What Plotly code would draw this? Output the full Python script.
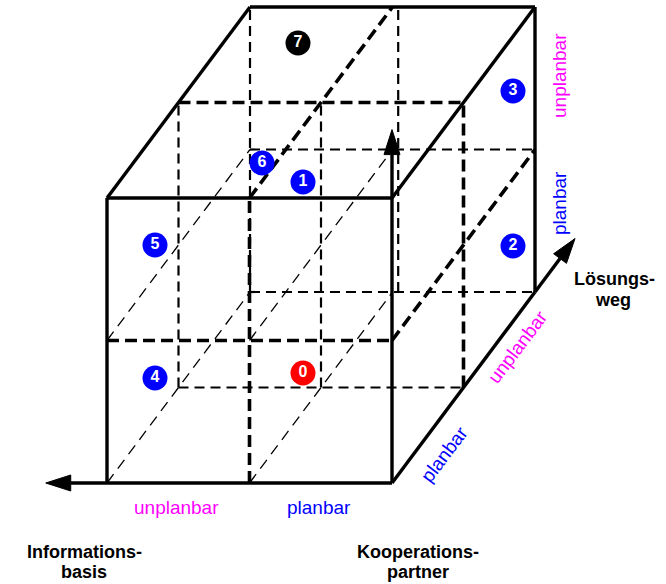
import plotly.graph_objects as go

# ---------------- data ----------------
# cube grid nodes are given as (u, v, w): u = left->right, v = bottom->top, w = front->back
solid_edges = [((0, 0, 0), (2, 0, 0)), ((0, 2, 0), (2, 2, 0)), ((0, 0, 0), (0, 2, 0)),
               ((2, 0, 0), (2, 2, 0)), ((0, 2, 0), (0, 2, 2)), ((2, 2, 0), (2, 2, 2)),
               ((0, 2, 2), (2, 2, 2)), ((2, 0, 2), (2, 2, 2)), ((2, 0, 0), (2, 0, 2))]
thick_dashed_edges = [((0, 1, 0), (2, 1, 0)), ((1, 0, 0), (1, 2, 0)), ((0, 2, 1), (2, 2, 1)),
                      ((2, 0, 1), (2, 2, 1)), ((2, 1, 0), (2, 1, 2)), ((1, 2, 0), (1, 2, 2))]
medium_dashed_edges = [((0, 0, 1), (2, 0, 1)), ((0, 0, 1), (0, 2, 1)), ((1, 0, 1), (1, 2, 1)),
                       ((0, 0, 2), (0, 2, 2)), ((1.04, 0, 2), (1.04, 2, 2)), ((0, 1, 2), (2, 1, 2)),
                       ((0, 0, 2), (2, 0, 2))]
thin_dashed_edges = [((0, 0, 0), (0, 0, 2)), ((1, 0, 0), (1, 0, 2)),
                     ((0, 1, 0), (0, 1, 2)), ((1, 1, 0), (1, 1, 2))]
# axis arrows: (start node, tip node)
arrows = [((0, 0, 0), (-0.43, 0, 0)), ((2, 2, 0), (2, 2.48, 0)), ((2, 0, 2), (2, 0, 2.56))]

point_labels = ["0", "1", "2", "3", "4", "5", "6", "7"]
point_x = [303, 303, 513, 513, 155, 155, 262, 298]
point_y = [373, 182, 246, 91, 378, 245, 163, 43]
point_colors = ["#ff0000", "#0000ff", "#0000ff", "#0000ff", "#0000ff", "#0000ff", "#0000ff", "#000000"]

axis_labels = ["unplanbar", "planbar", "unplanbar", "planbar", "unplanbar", "planbar"]
axis_label_colors = ["#ff00ff", "#0000ff", "#ff00ff", "#0000ff", "#ff00ff", "#0000ff"]
axis_label_x = [176, 319, 517, 444, 559, 559]
axis_label_y = [507, 507, 347, 454, 76, 203]
axis_label_angle = [0, 0, -53, -53, -90, -90]

title_lines = ["Informations-", "basis", "Kooperations-", "partner", "Lösungs-", "weg"]
title_x = [84, 84, 418, 418, 614, 613]
title_y = [552, 572, 552, 572, 279, 300]

# ---------------- projection ----------------
ORIGIN = (107.0, 483.0)
U_STEP = (142.5, 0.0)
V_STEP = (0.0, -142.5)
W_STEP = (71.5, -95.5)


def proj(n):
    u, v, w = n
    return (ORIGIN[0] + u * U_STEP[0] + v * V_STEP[0] + w * W_STEP[0],
            ORIGIN[1] + u * U_STEP[1] + v * V_STEP[1] + w * W_STEP[1])


def edge_xy(edges):
    xs, ys = [], []
    for a, b in edges:
        pa, pb = proj(a), proj(b)
        xs += [pa[0], pb[0], None]
        ys += [pa[1], pb[1], None]
    return xs, ys


fig = go.Figure()

styles = [
    (thin_dashed_edges, 1.3, "11px,7px"),
    (medium_dashed_edges, 2.2, "10px,6px"),
    (thick_dashed_edges, 3.6, "12px,6px"),
    (solid_edges, 3.4, "solid"),
]
for edges, w, dash in styles:
    xs, ys = edge_xy(edges)
    fig.add_trace(go.Scatter(x=xs, y=ys, mode="lines",
                             line=dict(color="black", width=w, dash=dash),
                             hoverinfo="skip", showlegend=False))

# arrows: shaft + filled head
HEAD_LEN = 25.0
HEAD_HALF = 8.0
for start, tip in arrows:
    p0, p1 = proj(start), proj(tip)
    dx, dy = p1[0] - p0[0], p1[1] - p0[1]
    L = (dx * dx + dy * dy) ** 0.5
    ux, uy = dx / L, dy / L
    bx, by = p1[0] - ux * HEAD_LEN, p1[1] - uy * HEAD_LEN
    fig.add_trace(go.Scatter(x=[p0[0], bx], y=[p0[1], by], mode="lines",
                             line=dict(color="black", width=3.4),
                             hoverinfo="skip", showlegend=False))
    fig.add_trace(go.Scatter(
        x=[p1[0], bx - uy * HEAD_HALF, bx + uy * HEAD_HALF, p1[0]],
        y=[p1[1], by + ux * HEAD_HALF, by - ux * HEAD_HALF, p1[1]],
        mode="lines", fill="toself", fillcolor="black",
        line=dict(color="black", width=1), hoverinfo="skip", showlegend=False))

# numbered points
fig.add_trace(go.Scatter(
    x=point_x, y=point_y, mode="markers+text", text=point_labels,
    textposition="middle center",
    marker=dict(size=25, color=point_colors, line=dict(width=0)),
    textfont=dict(family="Liberation Sans, Arial, sans-serif", size=16, color="white", weight="bold"),
    hoverinfo="skip", showlegend=False))

for t, c, x, y, a in zip(axis_labels, axis_label_colors, axis_label_x, axis_label_y, axis_label_angle):
    fig.add_annotation(x=x, y=y, text=t, showarrow=False, textangle=a,
                       xanchor="center", yanchor="middle",
                       font=dict(family="Liberation Sans, Arial, sans-serif", size=19, color=c))

for t, x, y in zip(title_lines, title_x, title_y):
    fig.add_annotation(x=x, y=y, text="<b>" + t + "</b>", showarrow=False,
                       xanchor="center", yanchor="middle",
                       font=dict(family="Liberation Sans, Arial, sans-serif",
                                 size=18, color="black"))

fig.update_layout(
    width=666, height=584,
    margin=dict(l=0, r=0, t=0, b=0),
    paper_bgcolor="white", plot_bgcolor="white",
    xaxis=dict(range=[0, 666], visible=False, fixedrange=True),
    yaxis=dict(range=[584, 0], visible=False, fixedrange=True),
)

fig.write_html("out.html", config={"displayModeBar": False},
               post_script="document.body.style.margin='0';document.body.style.overflow='hidden';")
